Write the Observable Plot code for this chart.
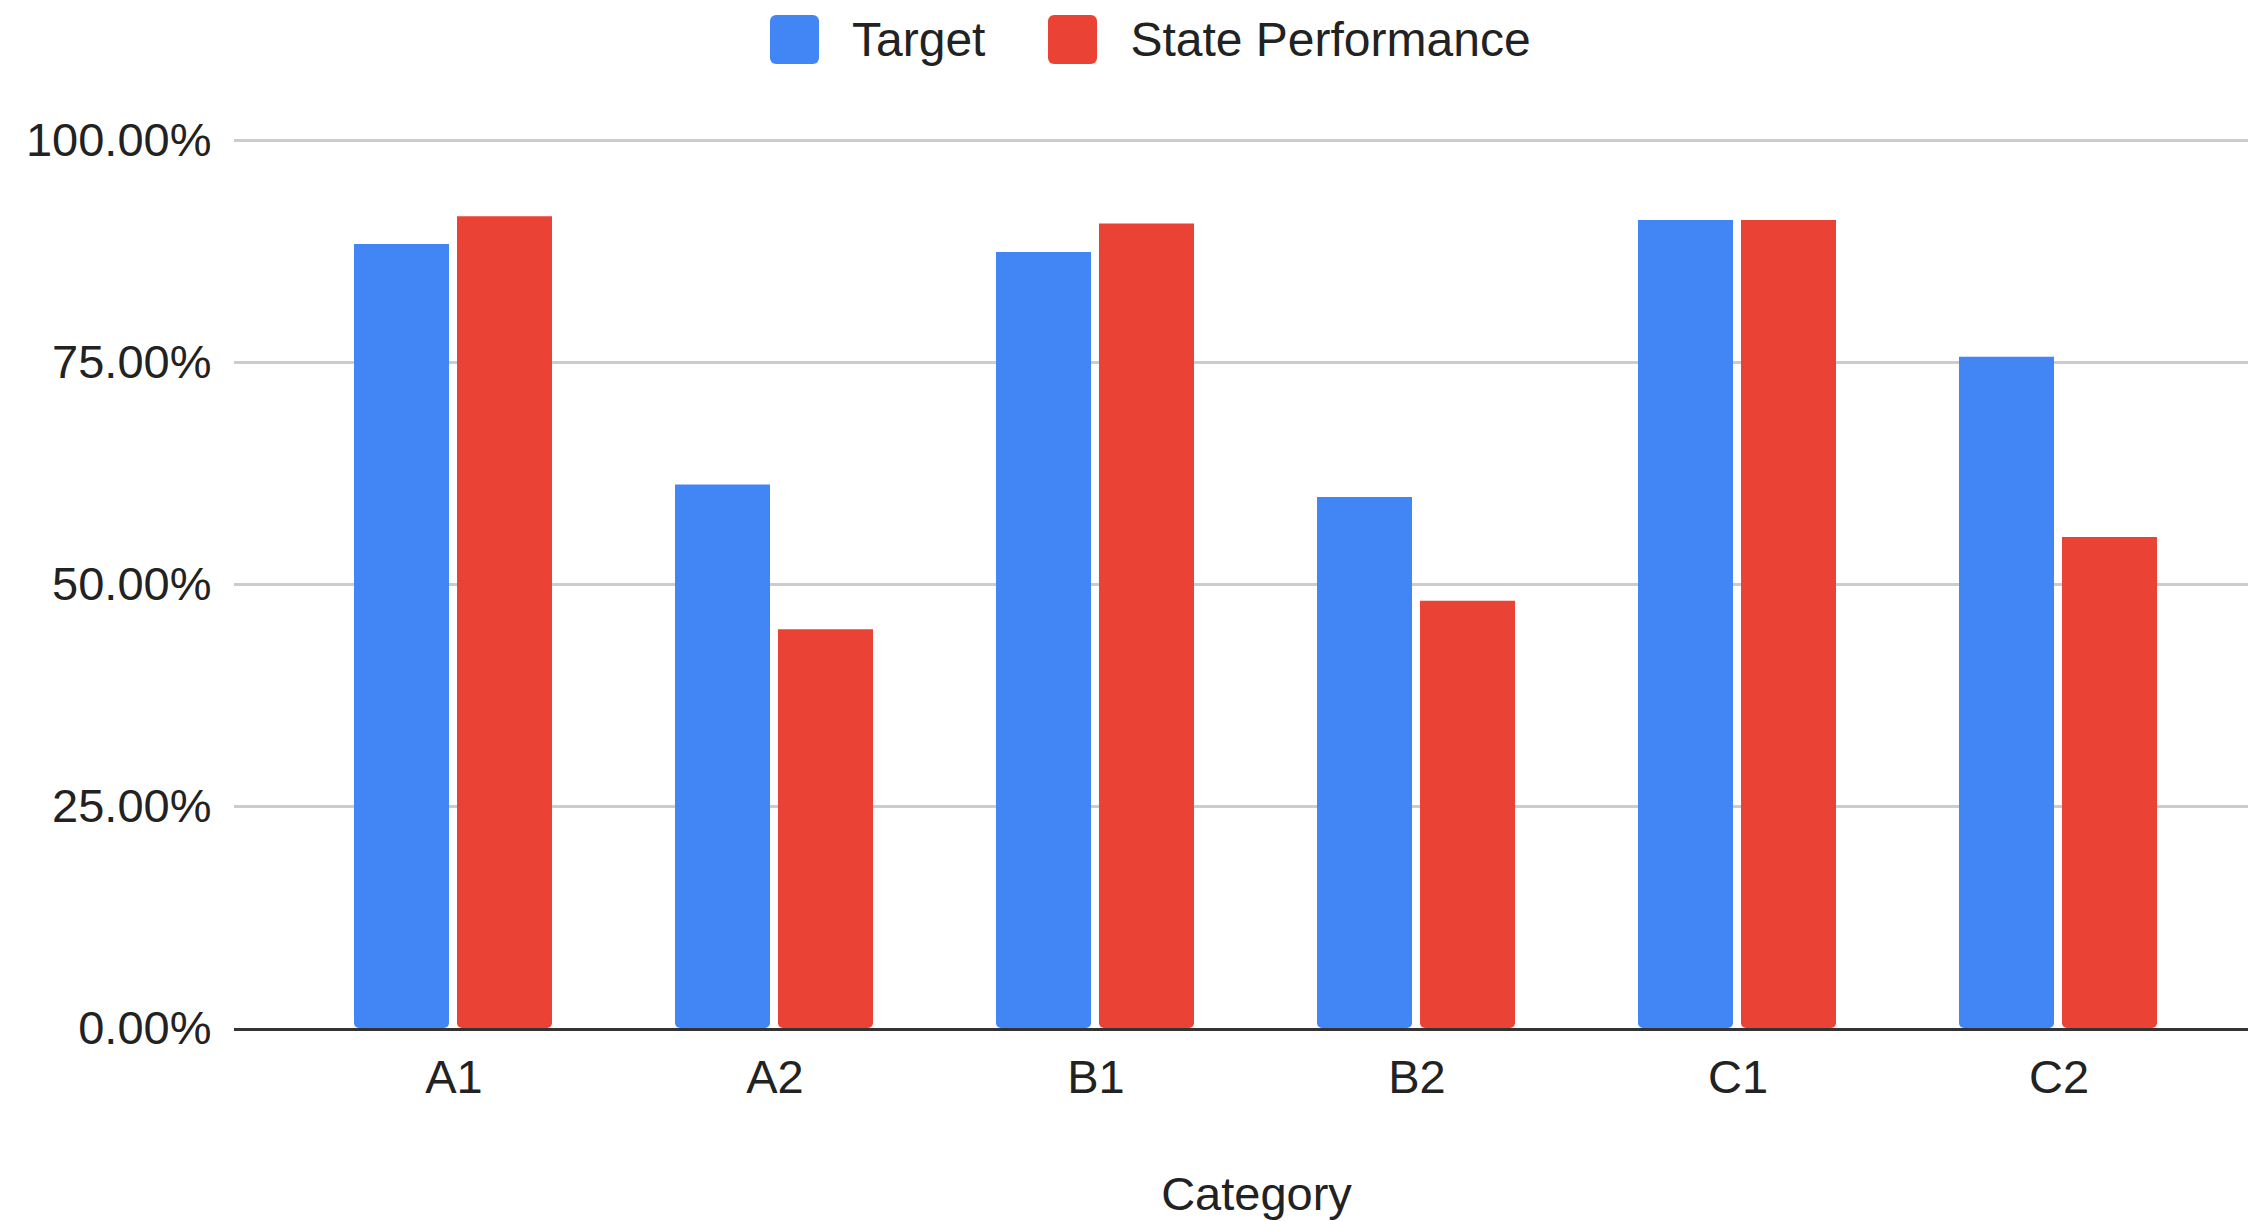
<!DOCTYPE html>
<html>
<head>
<meta charset="utf-8">
<script src="https://cdn.jsdelivr.net/npm/d3@7"></script>
<script src="https://cdn.jsdelivr.net/npm/@observablehq/plot@0.6"></script>
<style>
  html, body { margin: 0; padding: 0; background: #fff; overflow: hidden; }
  body { width: 2248px; height: 1221px; font-family: "Liberation Sans", Arial, sans-serif; }
  #legend { height: 78px; display: flex; align-items: center; padding-left: 770px; box-sizing: border-box; font-size: 48px; color: #222; }
  .sw { width: 49px; height: 49px; border-radius: 6px; margin-right: 33px; }
  .item { display: flex; align-items: center; margin-right: 63px; }
  #chart { position: relative; width: 2248px; height: 1143px; }
  #chart svg { display: block; position: absolute; left: 0; top: 0; }
</style>
</head>
<body>
<div id="legend"></div>
<div id="chart"></div>
<script>
const categories = ["A1", "A2", "B1", "B2", "C1", "C2"];
const seriesNames = ["Target", "State Performance"];
const seriesColors = ["#4285F4", "#EA4335"];
const targetValues = [0.883, 0.612, 0.874, 0.598, 0.910, 0.756];
const stateValues = [0.914, 0.449, 0.906, 0.481, 0.910, 0.553];
const yTicks = [0, 0.25, 0.5, 0.75, 1];
const xLabel = "Category";

const data = [];
categories.forEach((c, i) => {
  data.push({category: c, series: seriesNames[0], value: targetValues[i]});
  data.push({category: c, series: seriesNames[1], value: stateValues[i]});
});

// legend
const legend = document.getElementById("legend");
seriesNames.forEach((s, i) => {
  const item = document.createElement("div");
  item.className = "item";
  const sw = document.createElement("div");
  sw.className = "sw";
  sw.style.background = seriesColors[i];
  const t = document.createElement("span");
  t.textContent = s;
  item.appendChild(sw);
  item.appendChild(t);
  legend.appendChild(item);
});

const fmt = d3.format(".2%");
const common = {
  width: 2248,
  height: 1143,
  marginLeft: 234,
  marginRight: -30,
  marginTop: 62,
  marginBottom: 193
};
const bandOpts = {type: "band", domain: categories, range: [234, 2278], paddingInner: 0.38, paddingOuter: 0.372};

// base layer: grid, axes
const base = Plot.plot({
  ...common,
  style: {fontFamily: "'Liberation Sans', Arial, sans-serif", fontSize: "47px", color: "#222", background: "#fff"},
  x: {...bandOpts, label: null},
  y: {domain: [0, 1]},
  marks: [
    Plot.ruleY(yTicks.slice(1), {stroke: "#cccccc", strokeWidth: 3}),
    Plot.axisY({ticks: yTicks, tickFormat: fmt, tickSize: 0, tickPadding: 23, label: null, fill: "#222"}),
    Plot.axisX({tickSize: 0, tickPadding: 31, label: xLabel, labelAnchor: "center", labelOffset: 181, fill: "#222"})
  ]
});

// bar layer: grouped bars via facets
const bars = Plot.plot({
  ...common,
  style: {background: "transparent"},
  fx: {...bandOpts, axis: null},
  x: {domain: seriesNames, paddingInner: 0.077, paddingOuter: 0, axis: null},
  y: {domain: [0, 1], axis: null},
  color: {domain: seriesNames, range: seriesColors},
  marks: [
    Plot.barY(data, {fx: "category", x: "series", y: "value", fill: "series", ry2: 5, rx: 5})
  ]
});

// baseline layer on top
const baseline = Plot.plot({
  ...common,
  style: {background: "transparent"},
  x: {...bandOpts, axis: null},
  y: {domain: [0, 1], axis: null},
  marks: [Plot.ruleY([0], {stroke: "#333333", strokeWidth: 3, dy: 1})]
});

const holder = document.getElementById("chart");
holder.appendChild(base);
holder.appendChild(bars);
holder.appendChild(baseline);
</script>
</body>
</html>
